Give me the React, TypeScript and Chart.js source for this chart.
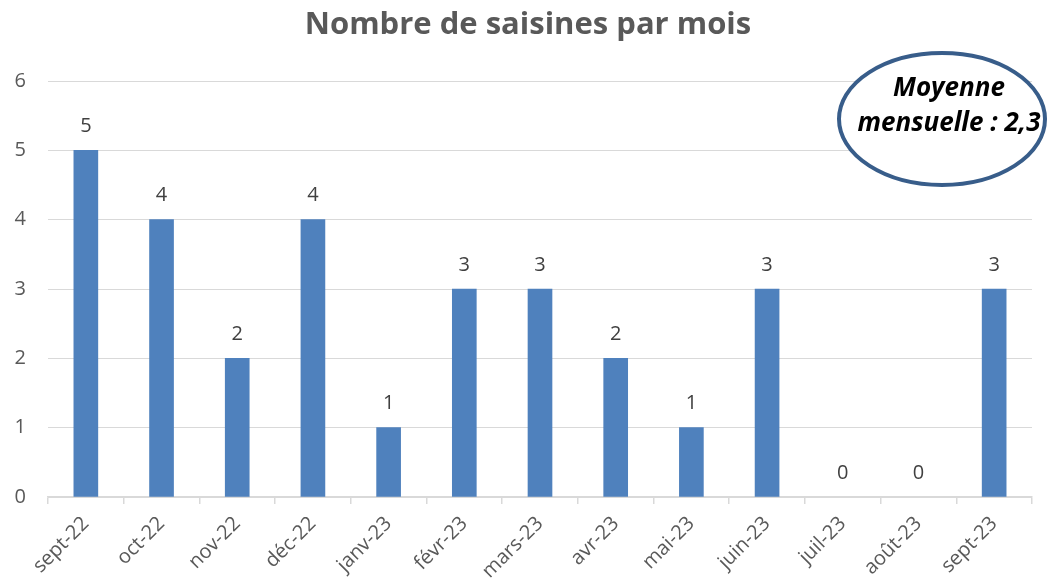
import React, { useEffect, useRef } from "react";
import { Chart, registerables } from "chart.js";

Chart.register(...registerables);

const TITLE = "Nombre de saisines par mois";
const MONTHS = ["sept-22", "oct-22", "nov-22", "déc-22", "janv-23", "févr-23", "mars-23", "avr-23", "mai-23", "juin-23", "juil-23", "août-23", "sept-23"];
const SAISINES = [5, 4, 2, 4, 1, 3, 3, 2, 1, 3, 0, 0, 3];
const NOTE_LINES = ["Moyenne", "mensuelle : 2,3"];
const Y_MIN = 0;
const Y_MAX = 6;

const FONT = "'Open Sans', sans-serif";

const overlayPlugin = {
  id: "overlay",
  afterDatasetsDraw(chart: any) {
    const ctx = chart.ctx;
    const meta = chart.getDatasetMeta(0);
    ctx.save();
    ctx.fillStyle = "#404040";
    ctx.font = `20px ${FONT}`;
    ctx.textAlign = "center";
    ctx.textBaseline = "middle";
    meta.data.forEach((bar: any, i: number) => {
      ctx.fillText(String(SAISINES[i]), bar.x, bar.y - 24);
    });
    ctx.restore();
  },
  afterDraw(chart: any) {
    const ctx = chart.ctx;
    ctx.save();
    // title
    ctx.fillStyle = "#595959";
    ctx.font = `bold 31px ${FONT}`;
    ctx.textAlign = "center";
    ctx.textBaseline = "alphabetic";
    ctx.fillText(TITLE, 528, 34);
    // ellipse note
    ctx.beginPath();
    ctx.ellipse(942, 119, 103, 66, 0, 0, Math.PI * 2);
    ctx.fillStyle = "#ffffff";
    ctx.fill();
    ctx.lineWidth = 4;
    ctx.strokeStyle = "#385D8A";
    ctx.stroke();
    ctx.fillStyle = "#000000";
    ctx.font = `italic bold 26px ${FONT}`;
    ctx.fillText(NOTE_LINES[0], 949, 96);
    ctx.fillText(NOTE_LINES[1], 949, 131);
    ctx.restore();
  },
};

export default function App() {
  const ref = useRef<HTMLCanvasElement>(null);
  useEffect(() => {
    const chart = new Chart(ref.current!, {
      type: "bar",
      data: {
        labels: MONTHS,
        datasets: [
          {
            data: SAISINES,
            backgroundColor: SAISINES.map((v) => (v === 0 ? "rgba(0,0,0,0)" : "#4F81BD")),
            barThickness: 24,
          },
        ],
      },
      options: {
        animation: false,
        responsive: false,
        maintainAspectRatio: false,
        layout: { padding: { top: 81, right: 16, left: 0, bottom: 0 } },
        plugins: { legend: { display: false }, title: { display: false }, tooltip: { enabled: false } },
        scales: {
          y: {
            min: Y_MIN,
            max: Y_MAX,
            ticks: { stepSize: 1, color: "#595959", font: { size: 20, family: FONT }, padding: 22 },
            grid: { color: "#D9D9D9", lineWidth: 1, drawTicks: false },
            border: { display: false },
            afterFit(scale: any) {
              scale.width = 48;
            },
          },
          x: {
            ticks: {
              color: "#595959",
              font: { size: 20, family: FONT },
              maxRotation: 45,
              minRotation: 45,
              padding: 8,
            },
            grid: { drawOnChartArea: false, drawTicks: true, tickLength: 7, color: "#D9D9D9", lineWidth: 1.5, offset: true },
            border: { display: true, color: "#D9D9D9", width: 1.5 },
            afterFit(scale: any) {
              scale.height = 88;
            },
          },
        },
      },
      plugins: [overlayPlugin],
    });
    return () => chart.destroy();
  }, []);
  return (
    <div style={{ position: "fixed", left: 0, top: 0, width: 1048, height: 585, background: "#fff" }}>
      <canvas ref={ref} width={1048} height={585} style={{ width: 1048, height: 585 }} />
    </div>
  );
}
